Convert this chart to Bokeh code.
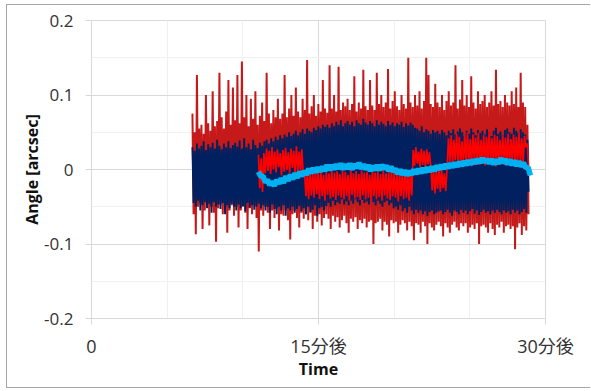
import numpy as np
from bokeh.plotting import figure
from bokeh.models import FixedTicker, Range1d, ColumnDataSource
from bokeh.embed import file_html
from bokeh.resources import INLINE

# ---- data (angles in milli-arcsec) ----
raw_start_min, raw_end_min = 6.67, 28.88
filt_start_min, filt_end_min = 11.03, 28.88
smooth_start_min, smooth_end_min = 11.03, 29.0

darkred_mas = [
    75,-60,50,-87,127,-50,55,-45,60,-80,48,-55,100,-48,62,-75,52,-50,105,-58,
    58,-97,65,-52,130,-47,70,-60,55,-50,78,-85,120,-55,60,-48,110,-62,66,-50,
    127,-78,62,-55,145,-50,70,-58,100,-80,58,-52,95,-60,68,-48,105,-65,60,-110,
    72,-55,90,-62,65,-50,130,-58,75,-80,62,-55,80,-65,70,-52,95,-82,68,-60,
    75,-62,127,-55,70,-68,82,-94,100,-60,72,-55,110,-65,78,-78,70,-58,95,-66,
    80,-60,147,-68,75,-58,85,-80,100,-62,72,-70,88,-60,78,-75,120,-65,82,-60,
    76,-66,140,-80,82,-62,100,-70,78,-64,138,-78,80,-68,90,-62,85,-72,95,-85,
    80,-66,88,-70,125,-64,78,-80,90,-68,82,-72,134,-66,85,-78,80,-70,120,-68,
    86,-100,80,-72,130,-70,88,-66,100,-82,84,-70,90,-74,135,-90,82,-68,92,-72,
    105,-70,85,-85,80,-74,100,-68,88,-72,82,-82,150,-70,90,-76,84,-95,100,-72,
    86,-74,105,-85,82,-70,92,-76,150,-100,127,-72,88,-78,84,-82,115,-74,90,-70,
    84,-76,100,-90,80,-72,92,-78,105,-85,86,-74,90,-70,140,-78,82,-82,94,-72,
    120,-76,86,-72,100,-85,84,-78,125,-74,90,-80,82,-72,105,-100,88,-76,92,-74,
    100,-78,84,-85,90,-72,105,-80,86,-88,134,-74,88,-78,92,-70,84,-85,100,-76,
    90,-74,86,-80,105,-76,88,-107,110,-78,84,-72,130,-88,90,-76,84,-82,60,-60,
]

navy_mas = [
    30,-45,25,-50,35,-42,28,-55,32,-48,38,-44,26,-52,34,-46,30,-58,36,-44,
    28,-50,40,-47,32,-53,27,-45,35,-60,30,-48,38,-52,29,-46,33,-50,36,-55,
    31,-47,39,-52,28,-49,42,-56,30,-45,35,-51,27,-48,40,-54,33,-50,29,-46,
    36,-52,32,-48,38,-55,40,-50,35,-58,42,-47,38,-53,44,-60,40,-50,46,-55,
    42,-48,47,-62,44,-52,50,-55,45,-50,48,-58,52,-53,46,-49,50,-56,54,-52,
    48,-60,55,-50,52,-57,50,-54,56,-48,53,-62,58,-52,55,-50,60,-55,57,-49,
    60,-45,56,-50,62,-42,58,-48,64,-44,60,-46,66,-40,58,-47,62,-43,65,-48,
    60,-42,64,-46,58,-40,66,-44,62,-48,60,-41,68,-45,63,-43,60,-47,65,-40,
    62,-44,58,-48,66,-42,60,-46,64,-50,61,-44,58,-42,65,-48,60,-45,63,-52,
    58,-50,62,-54,60,-48,64,-56,57,-52,62,-58,59,-50,63,-55,60,-60,56,-54,
    55,-58,52,-55,58,-60,50,-56,54,-62,52,-57,48,-55,53,-60,50,-58,52,-56,
    48,-55,53,-60,50,-57,46,-54,52,-58,49,-62,54,-55,47,-57,51,-60,55,-54,
    50,-58,45,-55,52,-60,48,-56,55,-53,50,-59,46,-55,53,-61,49,-57,52,-54,
    47,-58,54,-56,50,-60,45,-55,52,-58,56,-54,48,-57,51,-60,46,-55,53,-58,
    55,-56,50,-60,48,-54,56,-58,52,-55,49,-60,54,-57,50,-53,47,-58,40,-30,
]

red_mas = [
    20,-25,15,-30,22,-5,28,-2,25,-6,30,0,24,-4,27,3,22,-8,26,-3,
    29,-1,23,-5,28,2,25,-6,31,-2,24,-4,27,-8,-3,-36,-5,-40,-2,-35,
    -6,-38,0,-33,-4,-40,-1,-36,-7,-42,-3,-34,-5,-39,0,-37,-4,-41,-2,-35,
    -6,-38,-1,-40,-3,-36,-7,-42,0,-34,-5,-39,-2,-37,-6,-41,-1,-35,-4,-40,
    -3,-38,-7,-43,0,-36,-4,-40,-2,-37,-6,-42,-1,-35,-5,-39,-3,-41,0,-36,
    -4,-38,-6,-43,-2,-36,-5,-40,-1,-38,-4,-42,-3,-35,26,5,30,8,24,3,
    28,6,25,2,27,7,23,4,-28,2,-32,-3,-26,5,-30,0,-25,-5,-29,3,
    42,10,46,6,40,12,48,8,44,5,38,11,45,7,50,9,41,4,47,12,
    43,8,49,6,40,10,46,5,44,9,51,7,42,11,47,4,45,8,40,10,
    46,6,43,9,48,5,41,12,47,7,44,10,49,6,42,8,45,30,35,5,
]

cyan_mas = [
    -3,-9,-9,-17,-14,-21,-16,-22,-14,-19,-12,-18,-9,-15,-7,-13,-5,-11,-3,-9,
    -2,-7,1,-5,2,-4,3,-3,4,-2,6,-1,6,0,7,1,8,0,7,1,
    8,0,7,2,9,1,7,0,6,-2,5,-1,6,-1,6,1,5,-2,4,-3,
    1,-6,0,-7,-1,-8,-2,-7,0,-6,1,-5,2,-4,3,-3,4,-2,5,0,
    6,1,7,2,8,3,9,4,10,5,11,6,12,7,13,8,14,9,15,10,
    14,8,14,7,13,8,15,9,14,7,13,6,12,5,11,4,9,2,3,-8,
]

y_ticks = [-0.2, -0.1, 0.0, 0.1, 0.2]
y_tick_labels = ["-0.2", "-0.1", "0", "0.1", "0.2"]
x_ticks = [0, 15, 30]
x_tick_labels = ["0", "15分後", "30分後"]

# ---- build sources ----
def series(vals, t0, t1):
    y = np.array(vals, dtype=float) / 1000.0
    t = np.linspace(t0, t1, len(y))
    return ColumnDataSource(dict(t=t, y=y))

src_darkred = series(darkred_mas, raw_start_min, raw_end_min)
src_navy = series(navy_mas, raw_start_min, raw_end_min)
src_red = series(red_mas, filt_start_min, filt_end_min)
src_cyan = series(cyan_mas, smooth_start_min, smooth_end_min)

p = figure(width=584, height=384, output_backend="svg", toolbar_location=None,
           x_range=Range1d(0, 30), y_range=Range1d(-0.2, 0.2))
p.styles = {"margin-left": "6px", "margin-top": "4px",
            "border-left": "1px solid #a6a6a6",
            "border-top": "1px solid #a6a6a6",
            "border-bottom": "1px solid #a6a6a6"}
p.min_border_left = 84
p.min_border_right = 46
p.min_border_top = 15
p.min_border_bottom = 71
p.background_fill_color = "white"
p.border_fill_color = "white"
p.outline_line_color = "#d9d9d9"

p.line("t", "y", source=src_darkred, line_color="#C00000", line_alpha=0.9, line_width=2.0)
p.line("t", "y", source=src_navy, line_color="#002060", line_alpha=1.0, line_width=1.9)
p.line("t", "y", source=src_red, line_color="#FF0000", line_width=1.7)
p.line("t", "y", source=src_cyan, line_color="#00B0F0", line_width=5.5)

font = "Open Sans, Noto Sans CJK JP"
grid_major = "#d9d9d9"
grid_minor = "#f0f0f0"

p.xaxis.ticker = FixedTicker(ticks=x_ticks, minor_ticks=[5, 10, 20, 25])
p.yaxis.ticker = FixedTicker(ticks=y_ticks, minor_ticks=[-0.15, -0.05, 0.05, 0.15])
p.xaxis.major_label_overrides = {k: v for k, v in zip(x_ticks, x_tick_labels)}
p.yaxis.major_label_overrides = {k: v for k, v in zip(y_ticks, y_tick_labels)}

for ax in (p.xaxis, p.yaxis):
    ax.axis_line_color = grid_major
    ax.major_tick_line_color = grid_major
    ax.major_tick_in = 0
    ax.major_tick_out = 6
    ax.minor_tick_line_color = None
    ax.major_label_text_font = font
    ax.major_label_text_font_size = "17px"
    ax.major_label_text_color = "#333333"
    ax.axis_label_text_font = font
    ax.axis_label_text_font_size = "16px"
    ax.axis_label_text_font_style = "bold"
    ax.axis_label_text_color = "#111111"

p.xaxis.major_label_text_font_size = "18px"
p.xaxis.axis_label = "Time"
p.yaxis.axis_label = "Angle [arcsec]"
p.yaxis.major_label_standoff = 12
p.yaxis.axis_label_standoff = -2
p.xaxis.major_label_standoff = 9
p.xaxis.axis_label_standoff = -3

p.xgrid.grid_line_color = grid_major
p.ygrid.grid_line_color = grid_major
p.xgrid.minor_grid_line_color = grid_minor
p.ygrid.minor_grid_line_color = grid_minor

open("out.html", "w").write(file_html(p, INLINE))
